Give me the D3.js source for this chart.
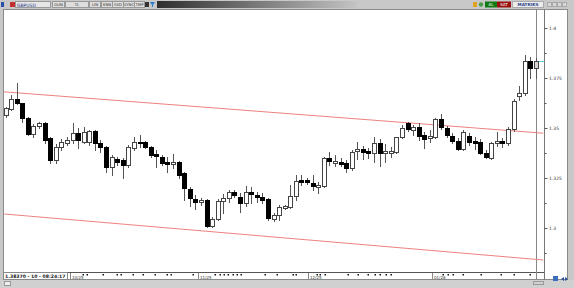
<!DOCTYPE html>
<html>
<head>
<meta charset="utf-8" />
<title>GBPUSD</title>
<style>
  body { margin: 0; background: #c8c8c8; }
  svg { display: block; font-family: "DejaVu Sans", sans-serif; }
</style>
</head>
<body>
<svg id="chart" width="574" height="288"></svg>
<script src="https://cdn.jsdelivr.net/npm/d3@7/dist/d3.min.js"></script>
<script>

// daily GBPUSD bars
var opens  = [1.3565,1.3595,1.3645,1.3625,1.3550,1.3470,1.3510,1.3525,1.3450,1.3340,1.3405,1.3425,1.3440,1.3475,1.3430,1.3430,1.3485,1.3425,1.3405,1.3305,
              1.3345,1.3340,1.3315,1.3400,1.3430,1.3430,1.3405,1.3370,1.3355,1.3330,1.3320,1.3330,1.3275,1.3195,1.3145,1.3130,1.3140,1.3010,1.3045,1.3135,
              1.3150,1.3180,1.3155,1.3125,1.3180,1.3165,1.3155,1.3145,1.3045,1.3065,1.3100,1.3105,1.3160,1.3240,1.3240,1.3225,1.3205,1.3210,1.3350,1.3325,
              1.3330,1.3325,1.3300,1.3385,1.3395,1.3385,1.3375,1.3425,1.3375,1.3375,1.3380,1.3455,1.3525,1.3490,1.3505,1.3465,1.3450,1.3455,1.3545,1.3500,
              1.3460,1.3435,1.3395,1.3460,1.3435,1.3430,1.3375,1.3350,1.3425,1.3435,1.3425,1.3495,1.3660,1.3675,1.3835,1.3800]
var highs  = [1.3605,1.3665,1.3725,1.3625,1.3555,1.3520,1.3530,1.3530,1.3455,1.3420,1.3445,1.3455,1.3525,1.3500,1.3505,1.3490,1.3490,1.3440,1.3410,1.3365,
              1.3355,1.3350,1.3415,1.3455,1.3465,1.3435,1.3410,1.3390,1.3365,1.3355,1.3370,1.3335,1.3280,1.3205,1.3165,1.3150,1.3145,1.3055,1.3145,1.3170,
              1.3190,1.3190,1.3175,1.3210,1.3205,1.3180,1.3175,1.3150,1.3075,1.3115,1.3115,1.3215,1.3265,1.3265,1.3250,1.3265,1.3230,1.3355,1.3380,1.3365,
              1.3350,1.3340,1.3390,1.3430,1.3410,1.3400,1.3455,1.3445,1.3420,1.3405,1.3455,1.3515,1.3530,1.3515,1.3525,1.3480,1.3490,1.3550,1.3570,1.3510,
              1.3475,1.3450,1.3490,1.3475,1.3455,1.3445,1.3390,1.3430,1.3480,1.3450,1.3505,1.3645,1.3710,1.3865,1.3855,1.3850]
var lows   = [1.3555,1.3590,1.3620,1.3530,1.3465,1.3455,1.3500,1.3425,1.3325,1.3325,1.3390,1.3415,1.3425,1.3400,1.3425,1.3415,1.3390,1.3380,1.3280,1.3265,
              1.3315,1.3250,1.3305,1.3390,1.3405,1.3400,1.3355,1.3305,1.3315,1.3280,1.3300,1.3250,1.3140,1.3110,1.3095,1.3115,1.3005,1.3005,1.3040,1.3075,
              1.3130,1.3155,1.3080,1.3110,1.3125,1.3130,1.3125,1.3040,1.3035,1.3040,1.3095,1.3100,1.3140,1.3215,1.3220,1.3190,1.3175,1.3205,1.3315,1.3310,
              1.3310,1.3280,1.3290,1.3345,1.3345,1.3350,1.3330,1.3310,1.3330,1.3355,1.3375,1.3450,1.3485,1.3465,1.3440,1.3400,1.3430,1.3450,1.3495,1.3455,
              1.3425,1.3390,1.3390,1.3415,1.3395,1.3370,1.3350,1.3345,1.3410,1.3405,1.3415,1.3485,1.3640,1.3665,1.3750,1.3750]
var closes = [1.3600,1.3645,1.3625,1.3550,1.3470,1.3510,1.3525,1.3440,1.3340,1.3405,1.3430,1.3440,1.3475,1.3440,1.3480,1.3485,1.3425,1.3405,1.3305,1.3355,
              1.3330,1.3315,1.3405,1.3430,1.3425,1.3405,1.3365,1.3360,1.3325,1.3320,1.3330,1.3265,1.3200,1.3150,1.3130,1.3140,1.3010,1.3045,1.3135,1.3150,
              1.3180,1.3165,1.3125,1.3180,1.3170,1.3155,1.3140,1.3050,1.3065,1.3105,1.3110,1.3160,1.3235,1.3230,1.3230,1.3210,1.3215,1.3350,1.3335,1.3335,
              1.3320,1.3300,1.3380,1.3395,1.3380,1.3375,1.3425,1.3375,1.3385,1.3385,1.3455,1.3500,1.3495,1.3505,1.3460,1.3445,1.3460,1.3545,1.3505,1.3465,
              1.3435,1.3395,1.3480,1.3430,1.3425,1.3375,1.3355,1.3425,1.3435,1.3425,1.3495,1.3635,1.3675,1.3835,1.3800,1.3837]

// channel drawn on the chart: [bar index, price]
var upperLine = [[-0.3, 1.3681], [96.3, 1.3474]]
var lowerLine = [[-0.2, 1.3070], [96.3, 1.2840]]

var priceTicks  = [1.3, 1.325, 1.35, 1.375, 1.4]
var priceLabels = ["1.3", "1.325", "1.35", "1.375", "1.4"]
var minorTicks  = [1.2875, 1.3125, 1.3375, 1.3625, 1.3875]

var monthLabels = ["10/25", "11/25", "12/25", "01/26"]
var monthPos    = [11.6, 34.4, 54.1, 76.3]
var dayDots     = [13.9, 14.6, 17.4, 19.9, 20.7, 22.8, 24.6, 26.7, 28.9, 29.6, 33.5, 37.5, 38.4, 39.1, 39.8, 40.7, 41.4, 42.1,
                   46.4, 48.6, 51.4, 52.1, 55.7, 56.4, 57.2, 61.3, 63.1, 65.0, 66.1, 67.1, 68.1, 69.1, 78.3, 79.2, 80.1, 81.9,
                   85.2, 88.8, 91.1, 93.9]

var lastLabel = "1.38370 - 10 - 08:24:17"
var toolButtons = ["GUN", "TL", "LIN", "KNN", "SVD", "SYNC", "TMP"]
var toolX       = [52, 65, 89, 101, 112, 123, 134]
var toolW       = [12, 23, 11, 11, 11, 11, 10]

var svg = d3.select('#chart')

// plot box
var plotLeft = 4, plotRight = 544, plotTop = 10, plotBottom = 272
var x = d3.scaleLinear().domain([0, opens.length - 1]).range([5.5, 536])
var y = d3.scaleLinear().domain([1.3, 1.4]).range([228, 28])

// window frame
svg.append('rect').attr('x', 0).attr('y', 0).attr('width', 574).attr('height', 288).attr('fill', '#c8c8c8')
svg.append('rect').attr('x', plotLeft).attr('y', plotTop).attr('width', 564).attr('height', 270).attr('fill', '#fff')
svg.append('rect').attr('x', plotLeft - 0.5).attr('y', plotTop - 0.5).attr('width', 564).attr('height', 270)
  .attr('fill', 'none').attr('stroke', '#8a8a8a')

// toolbar
var grad = svg.append('defs').append('linearGradient').attr('id', 'bar')
grad.append('stop').attr('offset', '0%').attr('stop-color', '#2e2e2e')
grad.append('stop').attr('offset', '100%').attr('stop-color', '#c4c4c4')
svg.append('rect').attr('x', 157).attr('y', 1).attr('width', 200).attr('height', 7).attr('fill', 'url(#bar)')
svg.append('rect').attr('x', 1).attr('y', 2).attr('width', 3).attr('height', 5).attr('fill', '#2a4fa8')
svg.append('rect').attr('x', 10).attr('y', 2).attr('width', 5).attr('height', 5).attr('fill', '#c43030')
svg.append('rect').attr('x', 15.5).attr('y', 1.5).attr('width', 35).attr('height', 6).attr('fill', '#e6e6e6').attr('stroke', '#999')
svg.append('text').attr('x', 17).attr('y', 6.5).attr('font-size', 4.5).attr('fill', '#1c2f8a').text('GBPUSD')

var tb = svg.selectAll('.tool').data(toolButtons).enter().append('g').attr('class', 'tool')
tb.append('rect')
  .attr('x', function (d, i) { return toolX[i] + 0.5 })
  .attr('y', 1.5)
  .attr('width', function (d, i) { return toolW[i] })
  .attr('height', 6)
  .attr('fill', '#dedede').attr('stroke', '#999')
tb.append('text')
  .attr('x', function (d, i) { return toolX[i] + toolW[i] / 2 + 0.5 })
  .attr('y', 6.3)
  .attr('text-anchor', 'middle').attr('font-size', 3.8).attr('fill', '#333')
  .text(function (d) { return d })
svg.append('rect').attr('x', 145).attr('y', 2).attr('width', 4).attr('height', 5).attr('fill', '#333')
svg.append('path').attr('d', 'M150,2 L155,2 L153,5 L153,7 L152,7 L152,5 Z').attr('fill', '#2b7fd0')

svg.append('rect').attr('x', 473).attr('y', 2).attr('width', 4).attr('height', 5).attr('fill', '#e0a020')
svg.append('circle').attr('cx', 481).attr('cy', 4.5).attr('r', 2.2).attr('fill', '#4a9a4a')
svg.append('rect').attr('x', 485).attr('y', 1.5).attr('width', 12).attr('height', 6).attr('fill', '#127a12')
svg.append('text').attr('x', 491).attr('y', 6.3).attr('text-anchor', 'middle').attr('font-size', 4).attr('fill', '#fff').text('AL')
svg.append('rect').attr('x', 497).attr('y', 1.5).attr('width', 14).attr('height', 6).attr('fill', '#9a1010')
svg.append('text').attr('x', 504).attr('y', 6.3).attr('text-anchor', 'middle').attr('font-size', 4).attr('fill', '#fff').text('SAT')
svg.append('rect').attr('x', 512.5).attr('y', 1.5).attr('width', 31).attr('height', 6).attr('fill', '#ececec').attr('stroke', '#aaa')
svg.append('text').attr('x', 528).attr('y', 6.3).attr('text-anchor', 'middle').attr('font-size', 4.2)
  .attr('font-weight', 'bold').attr('fill', '#2a3f8a').text('MATRIKS')
svg.selectAll('.winbtn').data([547, 552, 557, 562]).enter().append('rect')
  .attr('x', function (d) { return d + 0.5 }).attr('y', 2.5).attr('width', 4).attr('height', 4)
  .attr('fill', '#d8d8d8').attr('stroke', '#aaa')

// separators
var lastX = Math.round(x(opens.length - 1)) + 0.5
svg.append('line').attr('x1', plotRight + 0.5).attr('x2', plotRight + 0.5).attr('y1', plotTop).attr('y2', 280).attr('stroke', '#777')
svg.append('line').attr('x1', plotLeft).attr('x2', plotRight).attr('y1', plotBottom + 0.5).attr('y2', plotBottom + 0.5).attr('stroke', '#555')
svg.append('line').attr('x1', lastX).attr('x2', lastX).attr('y1', plotTop).attr('y2', 280).attr('stroke', '#888')

// channel lines
svg.append('clipPath').attr('id', 'plot').append('rect')
  .attr('x', plotLeft).attr('y', plotTop).attr('width', plotRight - plotLeft).attr('height', plotBottom - plotTop)
var line = d3.line().x(function (d) { return x(d[0]) }).y(function (d) { return y(d[1]) })
svg.append('g').attr('clip-path', 'url(#plot)').selectAll('path').data([upperLine, lowerLine]).enter()
  .append('path').attr('d', line).attr('fill', 'none').attr('stroke', '#f08080').attr('stroke-width', 1)

// candles
var candles = svg.append('g').selectAll('g').data(opens).enter().append('g')
candles.append('line')
  .attr('x1', function (d, i) { return Math.round(x(i)) + 0.5 })
  .attr('x2', function (d, i) { return Math.round(x(i)) + 0.5 })
  .attr('y1', function (d, i) { return Math.round(y(highs[i])) })
  .attr('y2', function (d, i) { return Math.round(y(lows[i])) + 1 })
  .attr('stroke', '#555')
candles.append('rect')
  .attr('x', function (d, i) { return Math.round(x(i)) - 1.5 })
  .attr('y', function (d, i) { return Math.round(y(Math.max(opens[i], closes[i]))) + 0.5 })
  .attr('width', 4)
  .attr('height', function (d, i) { return Math.max(1, Math.round(Math.abs(y(opens[i]) - y(closes[i])))) })
  .attr('fill', function (d, i) {
    if (i == opens.length - 1) return '#d6d6d6'
    return closes[i] >= opens[i] ? '#fff' : '#000'
  })
  .attr('stroke', function (d, i) { return closes[i] >= opens[i] ? '#444' : '#000' })

// last price marker
var lastY = Math.round(y(closes[closes.length - 1])) + 0.5
svg.append('line').attr('x1', lastX + 2.5).attr('x2', plotRight)
  .attr('y1', lastY).attr('y2', lastY).attr('stroke', '#5fd0e0')

// price axis
var axis = svg.append('g').attr('transform', 'translate(' + (plotRight + 0.5) + ',0)')
  .call(d3.axisRight(y).tickValues(priceTicks).tickSize(3).tickPadding(1.5)
    .tickFormat(function (d, i) { return priceLabels[i] }))
axis.select('.domain').remove()
axis.selectAll('text').attr('font-size', 4.5).attr('fill', '#333').attr('font-family', '"DejaVu Sans", sans-serif')
axis.selectAll('line').attr('stroke', '#555')
var minor = svg.append('g').attr('transform', 'translate(' + (plotRight + 0.5) + ',0)')
  .call(d3.axisRight(y).tickValues(minorTicks).tickSize(2).tickFormat(''))
minor.select('.domain').remove()
minor.selectAll('line').attr('stroke', '#555')

// time axis
svg.selectAll('.dot').data(dayDots).enter().append('rect')
  .attr('x', function (d) { return Math.round(x(d)) - 0.5 }).attr('y', 274)
  .attr('width', 1.5).attr('height', 1.5).attr('fill', '#111')
var months = svg.selectAll('.month').data(monthLabels).enter().append('g')
months.append('line')
  .attr('x1', function (d, i) { return Math.round(x(monthPos[i])) + 0.5 })
  .attr('x2', function (d, i) { return Math.round(x(monthPos[i])) + 0.5 })
  .attr('y1', 273).attr('y2', 279).attr('stroke', '#888')
months.append('text')
  .attr('x', function (d, i) { return Math.round(x(monthPos[i])) + 2 })
  .attr('y', 278.5).attr('font-size', 4).attr('fill', '#333')
  .text(function (d) { return d })

svg.append('rect').attr('x', 3.5).attr('y', 272.5).attr('width', 64).attr('height', 7)
  .attr('fill', '#fff').attr('stroke', '#888')
svg.append('text').attr('x', 5).attr('y', 278).attr('font-size', 4.6).attr('font-weight', 'bold')
  .attr('fill', '#222').text(lastLabel)

// bottom bar bits
svg.append('rect').attr('x', 0).attr('y', 280).attr('width', 574).attr('height', 8).attr('fill', '#d0d0d0')
svg.append('rect').attr('x', 4.5).attr('y', 281.5).attr('width', 6).attr('height', 4).attr('fill', '#eee').attr('stroke', '#999')
svg.append('rect').attr('x', 533.5).attr('y', 281.5).attr('width', 10).attr('height', 3).attr('fill', 'none').attr('stroke', '#999')
svg.append('rect').attr('x', 553).attr('y', 276).attr('width', 5).attr('height', 5).attr('fill', '#3a6fc0')
svg.append('path').attr('d', 'M561,279 L564,277 L564,281 Z M565,277 L568,279 L565,281 Z').attr('fill', '#2a4f9a')

</script>
</body>
</html>
